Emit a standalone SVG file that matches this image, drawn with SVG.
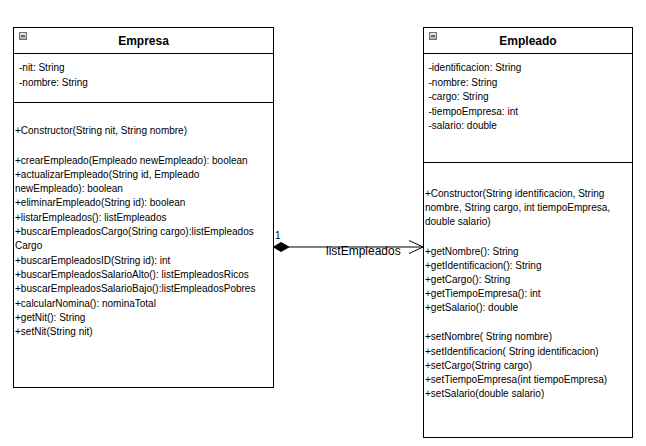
<svg xmlns="http://www.w3.org/2000/svg" width="646" height="446" viewBox="0 0 646 446">
<defs>
<linearGradient id="ig" x1="0" y1="0" x2="0" y2="1"><stop offset="0" stop-color="#f2f2f2"/><stop offset="1" stop-color="#a8a8a8"/></linearGradient>
<style>
.box{fill:#fff;stroke:#000;stroke-width:1}
.sep{stroke:#000;stroke-width:1}
.t{font-family:"Liberation Sans",Arial,sans-serif;font-size:12px;font-weight:bold;text-anchor:middle;fill:#000}
.m{font-family:"Liberation Sans",Arial,sans-serif;font-size:10px;fill:#000}
.icon{fill:url(#ig);stroke:#707070;stroke-width:1}
.lbl{font-family:"Liberation Sans",Arial,sans-serif;fill:#000}
</style>
</defs>
<rect width="646" height="446" fill="#fff"/>
<g id="empresa">
<rect class="box" x="13.5" y="27.5" width="260" height="360"/>
<line class="sep" x1="13.5" y1="53.5" x2="273.5" y2="53.5"/>
<line class="sep" x1="13.5" y1="102.5" x2="273.5" y2="102.5"/>
<rect class="icon" x="19.5" y="32.5" width="7" height="7"/>
<line x1="21" y1="36" x2="25" y2="36" stroke="#000" stroke-width="1"/>
<text class="t" x="143.5" y="45">Empresa</text>
<text class="m" x="19" y="71.2">-nit: String</text>
<text class="m" x="19" y="85.5">-nombre: String</text>
<text class="m" x="15" y="133.5">+Constructor(String nit, String nombre)</text>
<text class="m" x="15" y="163.5">+crearEmpleado(Empleado newEmpleado): boolean</text>
<text class="m" x="15" y="177.8">+actualizarEmpleado(String id, Empleado</text>
<text class="m" x="15" y="192.1">newEmpleado): boolean</text>
<text class="m" x="15" y="206.4">+eliminarEmpleado(String id): boolean</text>
<text class="m" x="15" y="220.7">+listarEmpleados(): listEmpleados</text>
<text class="m" x="15" y="235">+buscarEmpleadosCargo(String cargo):listEmpleados</text>
<text class="m" x="15" y="249.3">Cargo</text>
<text class="m" x="15" y="263.6">+buscarEmpleadosID(String id): int</text>
<text class="m" x="15" y="277.9">+buscarEmpleadosSalarioAlto(): listEmpleadosRicos</text>
<text class="m" x="15" y="292.2">+buscarEmpleadosSalarioBajo():listEmpleadosPobres</text>
<text class="m" x="15" y="306.5">+calcularNomina(): nominaTotal</text>
<text class="m" x="15" y="320.8">+getNit(): String</text>
<text class="m" x="15" y="335.1">+setNit(String nit)</text>
</g>
<g id="empleado">
<rect class="box" x="423.5" y="27.5" width="209" height="410"/>
<line class="sep" x1="423.5" y1="53.5" x2="632.5" y2="53.5"/>
<line class="sep" x1="423.5" y1="162.5" x2="632.5" y2="162.5"/>
<rect class="icon" x="429.5" y="32.5" width="7" height="7"/>
<line x1="431" y1="36" x2="435" y2="36" stroke="#000" stroke-width="1"/>
<text class="t" x="528" y="45">Empleado</text>
<text class="m" x="428.5" y="71.2">-identificacion: String</text>
<text class="m" x="428.5" y="85.7">-nombre: String</text>
<text class="m" x="428.5" y="100.2">-cargo: String</text>
<text class="m" x="428.5" y="114.7">-tiempoEmpresa: int</text>
<text class="m" x="428.5" y="129.2">-salario: double</text>
<text class="m" x="425" y="196.8">+Constructor(String identificacion, String</text>
<text class="m" x="425" y="211">nombre, String cargo, int tiempoEmpresa,</text>
<text class="m" x="425" y="225.2">double salario)</text>
<text class="m" x="425" y="254.5">+getNombre(): String</text>
<text class="m" x="425" y="268.6">+getIdentificacion(): String</text>
<text class="m" x="425" y="282.8">+getCargo(): String</text>
<text class="m" x="425" y="296.9">+getTiempoEmpresa(): int</text>
<text class="m" x="425" y="311">+getSalario(): double</text>
<text class="m" x="425" y="340.2">+setNombre( String nombre)</text>
<text class="m" x="425" y="354.5">+setIdentificacion( String identificacion)</text>
<text class="m" x="425" y="368.8">+setCargo(String cargo)</text>
<text class="m" x="425" y="383.1">+setTiempoEmpresa(int tiempoEmpresa)</text>
<text class="m" x="425" y="397.4">+setSalario(double salario)</text>
</g>
<g id="connectors">
<line x1="289" y1="247" x2="423" y2="247" stroke="#000" stroke-width="1"/>
<polygon points="273.5,247 281,242.5 289,247 281,251.5" fill="#000" stroke="#000" stroke-width="1"/>
<polyline points="409,240.5 423,247 409,253.5" fill="none" stroke="#000" stroke-width="1"/>
<text class="lbl" x="275" y="238.5" font-size="10">1</text>
<text class="lbl" x="326" y="255" font-size="12">listEmpleados</text>
</g>
</svg>
